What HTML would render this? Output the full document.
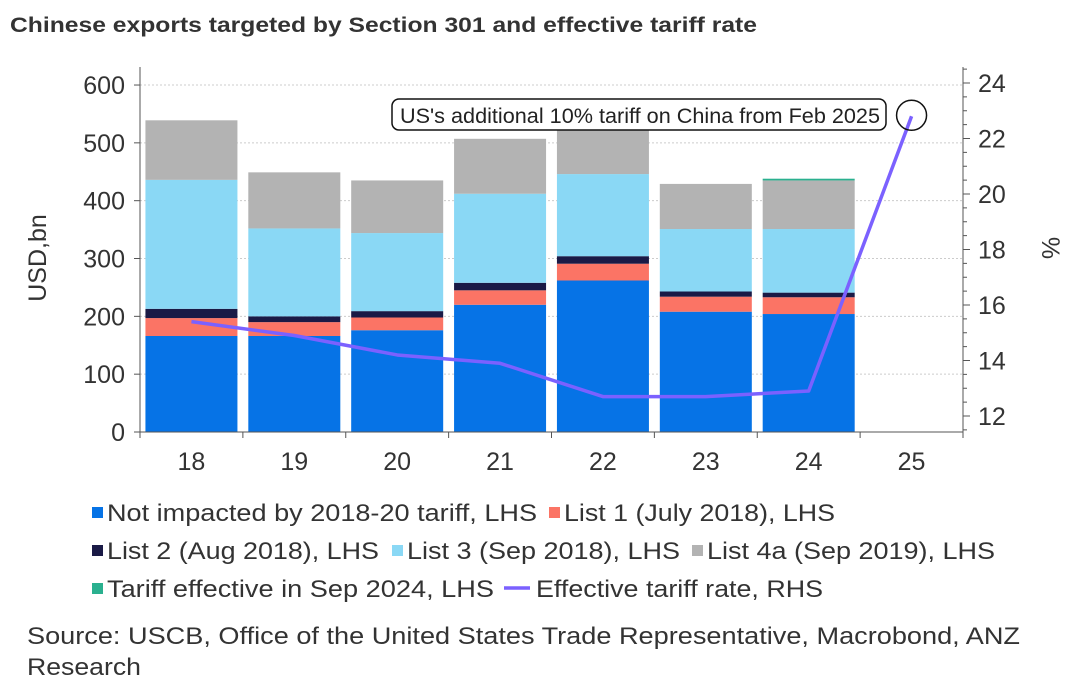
<!DOCTYPE html>
<html><head><meta charset="utf-8"><style>
body{margin:0;background:#fff;font-family:"Liberation Sans",sans-serif;}
#wrap{position:relative;width:1072px;height:693px;overflow:hidden;}
</style></head><body>
<div id="wrap">
<svg id="c" width="1072" height="693" style="position:absolute;left:0;top:0"></svg>
</div>
<script>
const categories=['18','19','20','21','22','23','24','25'];
const notImpacted=[166,166,176,220,262,208,204,0];
const list1=[31,24,22,25,29,26,29,0];
const list2=[16,10,11,13,13,9,8,0];
const list3=[223,152,135,154,142,108,110,0];
const list4a=[103,97,91,95,94,78,84,0];
const sep2024=[0,0,0,0,0,0,3,0];
const tariffRate=[15.4,14.9,14.2,13.9,12.7,12.7,12.9,22.8];
const leftTicks=[0,100,200,300,400,500,600];
const rightTicks=[12,14,16,18,20,22,24];

const NS='http://www.w3.org/2000/svg';
const svg=document.getElementById('c');
function el(t,a,txt){const e=document.createElementNS(NS,t);for(const k in a)e.setAttribute(k,a[k]);if(txt!==undefined)e.textContent=txt;svg.appendChild(e);return e;}
const X0=140,X1=963,yL=v=>432-v*0.5783,yR=v=>83+(24-v)*27.75;
const bw=(X1-X0)/categories.length;
const xc=i=>X0+bw*(i+0.5);

let t=el('text',{x:10,y:32,'font-size':21,'font-weight':'bold',fill:'#333',textLength:747,lengthAdjust:'spacingAndGlyphs'},'Chinese exports targeted by Section 301 and effective tariff rate');


leftTicks.forEach(v=>{
 let g=el('line',{x1:X0,x2:X1,y1:yL(v),y2:yL(v),stroke:'#ccc','stroke-dasharray':'2,2'});
 
 let k=el('line',{x1:X0-6,x2:X0,y1:yL(v),y2:yL(v),stroke:'#555'});
 
 let l=el('text',{x:X0-15,y:yL(v)+9,'font-size':25,'text-anchor':'end',fill:'#333'},v);
 
});
for(let v=11.5;v<=24.5;v+=0.5){
 let k=el('line',{x1:X1,x2:X1+(v%2===0?7:4),y1:yR(v),y2:yR(v),stroke:'#555'});
 
}
rightTicks.forEach(v=>{
 let l=el('text',{x:X1+15,y:yR(v)+9,'font-size':25,fill:'#333'},v);
 
});
const series=[[notImpacted,'#0673e6'],[list1,'#fb7465'],[list2,'#1a1a46'],[list3,'#8ad8f5'],[list4a,'#b3b3b3'],[sep2024,'#2ab08f']];
categories.forEach((c,i)=>{
 let base=0;
 series.forEach(([arr,col],si)=>{
  const v=arr[i];if(v<=0)return;
  let r=el('rect',{x:xc(i)-46,y:yL(base+v),width:92,height:v*0.5783,fill:col});
  
  base+=v;
 });
 let k=el('line',{x1:X0+bw*(i+1),x2:X0+bw*(i+1),y1:432,y2:438,stroke:'#555'});
 
 let l=el('text',{x:xc(i),y:470,'font-size':25,'text-anchor':'middle',fill:'#333'},c);
 
});
let ax=el('line',{x1:X0,x2:X0,y1:67,y2:438,stroke:'#555'});
ax=el('line',{x1:X1,x2:X1,y1:67,y2:438,stroke:'#555'});
ax=el('line',{x1:X0,x2:X1,y1:432,y2:432,stroke:'#555'});
let pts=tariffRate.map((v,i)=>xc(i)+','+yR(v)).join(' ');
let ln=el('polyline',{points:pts,fill:'none',stroke:'#7b61ff','stroke-width':3.5,'stroke-linejoin':'round'});

let ci=el('ellipse',{cx:xc(7),cy:yR(tariffRate[7])-1,rx:15,ry:15,fill:'none',stroke:'#111','stroke-width':1.5});

let bx=el('rect',{x:392,y:99,width:494,height:31,rx:7,fill:'#fff',stroke:'#111','stroke-width':1.5});

let at=el('text',{x:400,y:123,'font-size':21,fill:'#222',textLength:480,lengthAdjust:'spacingAndGlyphs'},"US's additional 10% tariff on China from Feb 2025");

let yt=el('text',{x:0,y:0,'font-size':25,fill:'#333','text-anchor':'middle',transform:'translate(46,258) rotate(-90)'},'USD,bn');

yt=el('text',{x:0,y:0,'font-size':25,fill:'#333','text-anchor':'middle',transform:'translate(1042,248) rotate(90)'},'%');

const legend=[[92,520,'#0673e6','Not impacted by 2018-20 tariff, LHS','sq',430],[549,520,'#fb7465','List 1 (July 2018), LHS','sq',271],
[92,558,'#1a1a46','List 2 (Aug 2018), LHS','sq',272],[392,558,'#8ad8f5','List 3 (Sep 2018), LHS','sq',273],[692,558,'#b3b3b3','List 4a (Sep 2019), LHS','sq',288],
[92,596,'#2ab08f','Tariff effective in Sep 2024, LHS','sq',387],[504,596,'#7b61ff','Effective tariff rate, RHS','ln',287]];
legend.forEach(([x,y,col,txt,k,w])=>{
 let m=k==='sq'?el('rect',{x:x,y:y-13,width:11,height:11,fill:col}):el('line',{x1:x,x2:x+26,y1:y-8,y2:y-8,stroke:col,'stroke-width':3.5});
 
 let l=el('text',{x:x+(k==='sq'?15:32),y:y+1,'font-size':24,fill:'#333',textLength:w,lengthAdjust:'spacingAndGlyphs'},txt);
 
});
let s=el('text',{x:27,y:644,'font-size':24,fill:'#333',textLength:993,lengthAdjust:'spacingAndGlyphs'},'Source: USCB, Office of the United States Trade Representative, Macrobond, ANZ');

s=el('text',{x:27,y:675,'font-size':24,fill:'#333',textLength:114,lengthAdjust:'spacingAndGlyphs'},'Research');

</script>
</body></html>
